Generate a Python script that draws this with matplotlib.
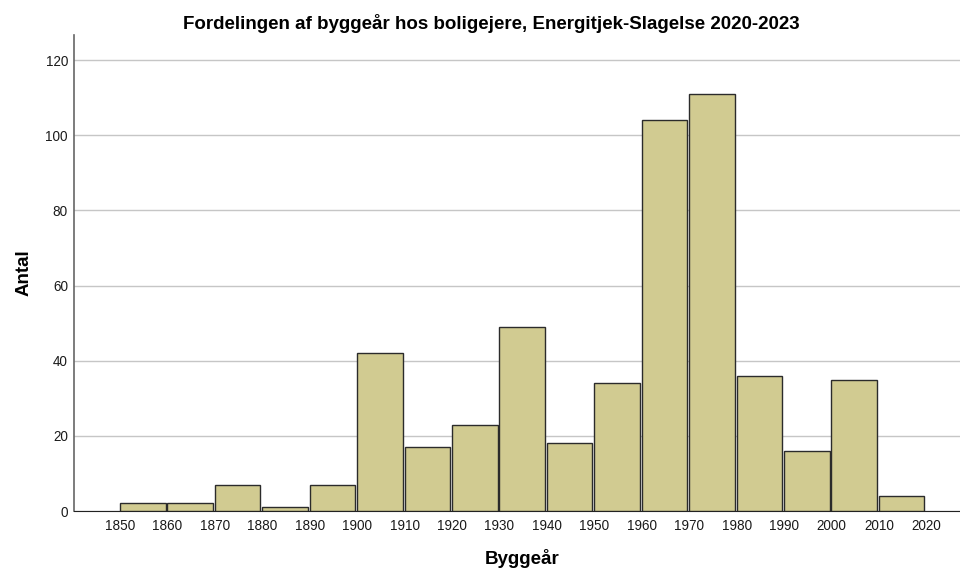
import matplotlib
matplotlib.use("Agg")
import matplotlib.pyplot as plt

plt.rcParams['font.family'] = ['Liberation Sans', 'DejaVu Sans']

bin_starts = [1850, 1860, 1870, 1880, 1890, 1900, 1910, 1920, 1930, 1940,
              1950, 1960, 1970, 1980, 1990, 2000, 2010]
counts = [2, 2, 7, 1, 7, 42, 17, 23, 49, 18, 34, 104, 111, 36, 16, 35, 4]
x_ticks = list(range(1850, 2021, 10))
y_ticks = [0, 20, 40, 60, 80, 100, 120]

fig = plt.figure(figsize=(9.6, 5.7), dpi=100)
ax = fig.add_axes([73.5 / 960, 0.1035, 1 - 73.5 / 960, 0.835])

ax.bar(bin_starts, counts, width=9.6, align='edge', color='#D1CB91',
       edgecolor='#2b2b2b', linewidth=1.0, zorder=3)

ax.set_xlim(1840.2, 2027.1)
ax.set_ylim(0, 126.7)
ax.set_xticks(x_ticks)
ax.set_yticks(y_ticks)
ax.tick_params(axis='both', length=0, labelsize=9.75, colors='#1a1a1a')
ax.tick_params(axis='x', pad=6)
ax.tick_params(axis='y', pad=4)
ax.grid(axis='y', color='#c6c6c6', linewidth=1.0, zorder=0)
ax.set_axisbelow(True)
for s in ['top', 'right']:
    ax.spines[s].set_visible(False)
ax.spines['left'].set_color('#666666')
ax.spines['left'].set_linewidth(1.2)
ax.spines['bottom'].set_color('#222222')

ax.set_title('Fordelingen af byggeår hos boligejere, Energitjek-Slagelse 2020-2023',
             fontsize=13.5, fontweight='bold', pad=4, x=0.471)
ax.set_xlabel('Byggeår', fontsize=13.5, fontweight='bold', labelpad=11, x=0.506)
ax.set_ylabel('Antal', fontsize=13.5, fontweight='bold', labelpad=9.5)

fig.savefig('out.png', dpi=100)
